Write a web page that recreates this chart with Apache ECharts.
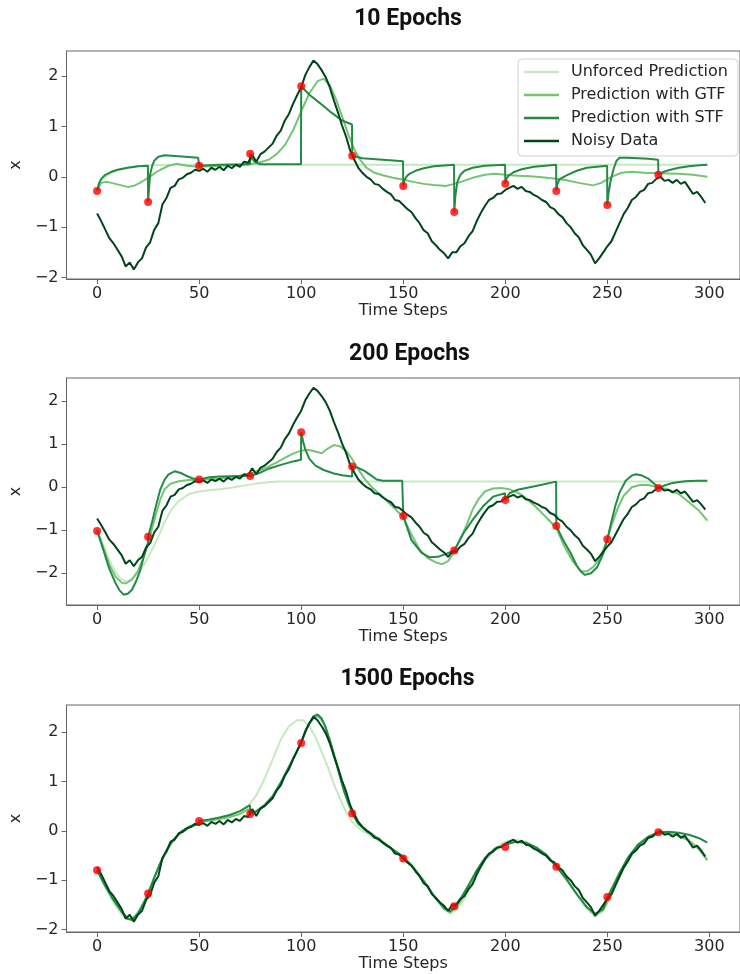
<!DOCTYPE html>
<html>
<head>
<meta charset="utf-8">
<script src="https://cdn.jsdelivr.net/npm/echarts@6/dist/echarts.min.js"></script>
<style>
  html, body { margin: 0; padding: 0; background: #ffffff; }
  #chart { width: 740px; height: 974px; }
</style>
</head>
<body>
<div id="chart"></div>
<script>
// ---- data ---------------------------------------------------------------
const panelTitles = ['10 Epochs', '200 Epochs', '1500 Epochs'];
const seriesNames = ['Unforced Prediction', 'Prediction with GTF', 'Prediction with STF', 'Noisy Data'];
const xTicks = [0, 50, 100, 150, 200, 250, 300];
const yTicks = [-2, -1, 0, 1, 2];

// observed trajectory, one value every 2 time steps (t = 0, 2, 4, ...)
const noisyStep = 2;
const noisyData = [
  -0.73, -0.88, -1.05, -1.22, -1.32, -1.45, -1.58, -1.78, -1.70, -1.84,
  -1.70, -1.62, -1.40, -1.30, -1.05, -0.92, -0.55, -0.42, -0.22, -0.18,
  -0.05, -0.02, 0.05, 0.08, 0.14, 0.12, 0.16, 0.10, 0.18, 0.14,
  0.20, 0.13, 0.22, 0.17, 0.24, 0.20, 0.30, 0.28, 0.44, 0.30,
  0.45, 0.50, 0.58, 0.66, 0.82, 0.92, 1.12, 1.25, 1.45, 1.62,
  1.78, 2.02, 2.18, 2.31, 2.24, 2.12, 1.98, 1.78, 1.52, 1.28,
  1.02, 0.80, 0.52, 0.34, 0.18, 0.08, 0.00, -0.05, -0.14, -0.16,
  -0.24, -0.30, -0.35, -0.46, -0.48, -0.56, -0.64, -0.70, -0.82, -0.92,
  -1.06, -1.12, -1.28, -1.36, -1.45, -1.52, -1.62, -1.50, -1.50, -1.38,
  -1.32, -1.18, -1.08, -0.88, -0.72, -0.58, -0.46, -0.42, -0.34, -0.33,
  -0.26, -0.22, -0.18, -0.24, -0.20, -0.28, -0.30, -0.36, -0.40, -0.46,
  -0.50, -0.60, -0.64, -0.74, -0.80, -0.92, -1.00, -1.12, -1.20, -1.36,
  -1.45, -1.55, -1.72, -1.62, -1.50, -1.38, -1.28, -1.10, -0.92, -0.74,
  -0.62, -0.46, -0.40, -0.30, -0.26, -0.14, -0.12, -0.04, 0.00, -0.08,
  -0.06, -0.12, -0.06, -0.14, -0.10, -0.22, -0.34, -0.30, -0.40, -0.52
];

// forcing points, one every 25 steps
const forcingSteps = [0, 25, 50, 75, 100, 125, 150, 175, 200, 225, 250, 275];
const forcing10 = [-0.28, -0.50, 0.22, 0.46, 1.80, 0.42, -0.18, -0.70, -0.14, -0.28, -0.56, 0.04];
const forcing200 = [-1.02, -1.15, 0.18, 0.26, 1.28, 0.48, -0.67, -1.47, -0.30, -0.90, -1.21, -0.02];
const forcing1500 = [-0.80, -1.27, 0.20, 0.34, 1.78, 0.35, -0.56, -1.53, -0.33, -0.73, -1.34, -0.03];

// ---- 10 epochs: [time step, x] ----
const unforced10 = [[0,-0.28],[2,-0.08],[4,0.0],[7,0.08],[10,0.13],[15,0.18],[20,0.21],[25,0.23],[40,0.24],[299,0.24]];
const gtf10 = [[0,-0.28],[2,-0.12],[5,-0.1],[10,-0.15],[15,-0.2],[18,-0.18],[21,-0.12],[25,-0.02],[30,0.12],[35,0.22],[39,0.26],[44,0.22],[50,0.2],[60,0.22],[70,0.24],[76,0.26],[80,0.29],[84,0.34],[88,0.45],[92,0.63],[96,0.92],[100,1.3],[104,1.66],[108,1.9],[111,1.95],[114,1.82],[117,1.55],[120,1.2],[123,0.85],[126,0.55],[129,0.33],[132,0.18],[136,0.08],[140,0.03],[145,-0.02],[150,-0.06],[155,-0.1],[160,-0.14],[165,-0.16],[171,-0.18],[175,-0.14],[179,-0.09],[184,-0.02],[190,0.04],[195,0.06],[200,0.04],[206,0.02],[212,0.01],[218,-0.01],[225,-0.04],[230,-0.07],[236,-0.12],[243,-0.17],[247,-0.12],[252,0.0],[257,0.08],[262,0.1],[268,0.08],[275,0.07],[285,0.06],[292,0.04],[299,0.0]];
const stf10 = [[0,-0.28],[1,-0.12],[2,-0.04],[4,0.04],[7,0.1],[10,0.14],[15,0.18],[20,0.21],[24.9,0.22],[25,-0.5],[25.5,-0.2],[26,0.05],[27,0.22],[28,0.32],[30,0.4],[33,0.43],[40,0.41],[49.5,0.38],[50,0.22],[55,0.23],[60,0.24],[74.9,0.25],[75,0.46],[76,0.35],[78,0.28],[80,0.25],[99.9,0.25],[100,1.8],[104,1.63],[109,1.47],[115,1.27],[120,1.12],[124.9,1.04],[125,0.42],[130,0.37],[140,0.34],[149.9,0.31],[150,-0.18],[150.5,-0.08],[151.5,0.0],[153,0.06],[156,0.12],[160,0.17],[165,0.21],[174.9,0.24],[175,-0.7],[175.5,-0.4],[176.5,-0.1],[178,0.04],[180,0.12],[184,0.18],[190,0.22],[199.9,0.24],[200,-0.14],[200.5,-0.05],[201.5,0.02],[204,0.09],[208,0.15],[214,0.2],[224.9,0.24],[225,-0.28],[225.5,-0.15],[226.5,-0.05],[230,0.03],[235,0.12],[240,0.18],[249.9,0.22],[250,-0.56],[250.5,-0.35],[251.5,-0.1],[253,0.15],[254.5,0.32],[256,0.38],[260,0.38],[270,0.36],[274.9,0.34],[275,0.04],[277,0.09],[280,0.13],[285,0.18],[290,0.21],[295,0.23],[299,0.24]];

// ---- 200 epochs ----
const unforced200 = [[0,-1.0],[3,-1.35],[6,-1.7],[9,-1.98],[12,-2.15],[15,-2.2],[18,-2.1],[21,-1.95],[24,-1.72],[27,-1.45],[30,-1.15],[33,-0.82],[36,-0.55],[40,-0.32],[45,-0.16],[50,-0.1],[55,-0.07],[60,-0.05],[65,-0.02],[70,0.02],[75,0.06],[80,0.1],[85,0.12],[90,0.13],[299,0.13]];
const gtf200 = [[0,-1.0],[3,-1.4],[6,-1.8],[9,-2.08],[12,-2.22],[14,-2.24],[17,-2.15],[20,-1.95],[23,-1.6],[25,-1.3],[27,-0.95],[29,-0.6],[31,-0.28],[33,-0.05],[36,0.08],[40,0.14],[45,0.17],[50,0.17],[60,0.2],[68,0.25],[75,0.32],[80,0.4],[84,0.48],[88,0.58],[92,0.68],[96,0.78],[100,0.85],[103,0.87],[106,0.84],[110,0.79],[113,0.9],[116,0.98],[119,0.95],[122,0.85],[125,0.65],[128,0.42],[131,0.2],[135,-0.02],[140,-0.22],[143,-0.37],[146,-0.5],[150,-0.7],[154,-1.1],[158,-1.45],[162,-1.65],[166,-1.75],[169,-1.79],[172,-1.72],[175,-1.5],[178,-1.2],[181,-0.88],[184,-0.52],[187,-0.27],[190,-0.1],[194,-0.03],[198,-0.02],[202,-0.05],[206,-0.12],[210,-0.25],[215,-0.46],[220,-0.7],[225,-0.95],[229,-1.38],[233,-1.72],[237,-1.95],[240,-1.96],[243,-1.86],[246,-1.68],[249,-1.35],[252,-0.9],[255,-0.5],[258,-0.2],[262,0.0],[266,0.05],[270,0.05],[275,0.0],[280,-0.06],[285,-0.16],[290,-0.35],[295,-0.55],[299,-0.78]];
const stf200 = [[0,-1.0],[2,-1.3],[4,-1.6],[6,-1.9],[9,-2.23],[11,-2.4],[13,-2.5],[15,-2.48],[17,-2.39],[19,-2.2],[21,-1.95],[23,-1.6],[24.9,-1.3],[25,-1.15],[27,-0.8],[29,-0.4],[31,-0.05],[33,0.17],[35,0.3],[38,0.37],[41,0.33],[44,0.26],[47,0.2],[50,0.18],[55,0.23],[60,0.25],[70,0.26],[75,0.26],[80,0.34],[84,0.43],[90,0.52],[96,0.6],[99.9,0.64],[100,1.28],[101,1.05],[102,0.88],[104,0.66],[107,0.5],[111,0.4],[116,0.32],[120,0.28],[124.9,0.25],[125,0.48],[128,0.45],[131,0.38],[134,0.28],[137,0.18],[140,0.15],[149.5,0.15],[150,-0.67],[154,-1.23],[159,-1.53],[163,-1.63],[167,-1.62],[171,-1.55],[175,-1.47],[179.5,-1.07],[184,-0.76],[189,-0.45],[194,-0.22],[199.9,-0.14],[200,-0.3],[202,-0.14],[206,-0.06],[215,0.03],[224.9,0.13],[225,-0.9],[228,-1.2],[232,-1.53],[235,-1.82],[237,-1.96],[239,-2.04],[242,-2.0],[245,-1.86],[248,-1.55],[250,-1.21],[252,-0.8],[254,-0.42],[256,-0.12],[259,0.15],[262,0.27],[264,0.3],[267,0.27],[270,0.2],[273,0.08],[275,-0.02],[278,0.04],[282,0.1],[288,0.14],[294,0.15],[299,0.15]];

// ---- 1500 epochs ----
const unforced1500 = [[0,-0.8],[4,-1.15],[8,-1.45],[12,-1.7],[15,-1.8],[18,-1.75],[21,-1.58],[24,-1.35],[27,-1.05],[30,-0.75],[33,-0.5],[36,-0.28],[40,-0.08],[45,0.05],[50,0.15],[55,0.22],[60,0.27],[65,0.32],[70,0.4],[74,0.5],[78,0.72],[82,1.05],[86,1.45],[90,1.85],[94,2.12],[98,2.24],[101,2.24],[104,2.12],[107,1.9],[110,1.6],[113,1.3],[116,0.95],[119,0.65],[122,0.38],[125,0.18],[128,0.06],[132,-0.05],[136,-0.15],[140,-0.25],[145,-0.38],[150,-0.52],[155,-0.72],[160,-1.0],[165,-1.3],[170,-1.58],[173,-1.68],[176,-1.6],[180,-1.38],[185,-0.98],[190,-0.6],[195,-0.35],[200,-0.22],[205,-0.18],[210,-0.22],[215,-0.35],[220,-0.5],[225,-0.72],[230,-1.0],[235,-1.3],[240,-1.58],[244,-1.74],[248,-1.62],[252,-1.3],[256,-0.92],[260,-0.6],[265,-0.32],[270,-0.15],[275,-0.06],[280,-0.04],[285,-0.08],[290,-0.18],[295,-0.35],[299,-0.58]];
const gtf1500 = [[0,-0.8],[4,-1.1],[8,-1.38],[12,-1.62],[15,-1.78],[17,-1.8],[20,-1.68],[23,-1.45],[26,-1.15],[29,-0.85],[32,-0.55],[35,-0.32],[38,-0.15],[42,0.0],[46,0.1],[50,0.18],[55,0.21],[60,0.24],[65,0.28],[70,0.34],[74,0.44],[75,0.33],[78,0.38],[82,0.5],[86,0.68],[90,0.95],[94,1.28],[98,1.62],[101,1.9],[104,2.18],[107,2.32],[109,2.3],[111,2.18],[114,1.85],[117,1.42],[120,0.95],[123,0.55],[125,0.36],[128,0.15],[132,0.02],[136,-0.1],[140,-0.22],[145,-0.38],[150,-0.55],[155,-0.75],[160,-1.02],[165,-1.32],[170,-1.58],[173,-1.65],[176,-1.55],[180,-1.3],[185,-0.92],[190,-0.58],[195,-0.38],[200,-0.28],[205,-0.22],[210,-0.24],[215,-0.35],[220,-0.5],[225,-0.72],[230,-0.98],[235,-1.28],[240,-1.55],[244,-1.7],[248,-1.6],[252,-1.28],[256,-0.92],[260,-0.6],[265,-0.32],[270,-0.15],[275,-0.05],[280,-0.05],[285,-0.1],[290,-0.2],[295,-0.38],[299,-0.6]];
const stf1500 = [[0,-0.8],[4,-1.12],[8,-1.4],[12,-1.64],[15,-1.78],[17,-1.8],[20,-1.68],[23,-1.45],[24.9,-1.3],[25,-1.27],[28,-0.95],[31,-0.65],[34,-0.4],[37,-0.2],[41,-0.02],[45,0.08],[49.9,0.15],[50,0.2],[55,0.23],[60,0.27],[65,0.32],[70,0.4],[74.9,0.52],[75,0.35],[78,0.4],[82,0.52],[86,0.7],[90,0.98],[94,1.3],[98,1.62],[100,1.8],[103,2.1],[106,2.32],[108,2.36],[110,2.28],[112,2.1],[115,1.7],[118,1.25],[121,0.8],[124.9,0.4],[125,0.35],[128,0.14],[132,0.0],[136,-0.12],[140,-0.24],[145,-0.38],[149.9,-0.52],[150,-0.56],[155,-0.75],[160,-1.02],[165,-1.32],[170,-1.56],[173,-1.63],[175,-1.55],[178,-1.38],[182,-1.1],[186,-0.8],[190,-0.55],[195,-0.36],[200,-0.28],[205,-0.22],[210,-0.24],[215,-0.33],[220,-0.48],[225,-0.72],[230,-0.98],[235,-1.28],[240,-1.55],[244,-1.68],[248,-1.58],[250,-1.35],[253,-1.1],[256,-0.85],[260,-0.55],[265,-0.28],[270,-0.12],[275,-0.03],[280,-0.02],[285,-0.04],[290,-0.08],[295,-0.15],[299,-0.24]];

// ---- layout & style ---------------------------------------------------------
const colors = ['#c7e9c0', '#74c476', '#238b45', '#00441b'];
const panels = [
  { title: panelTitles[0], lines: [unforced10, gtf10, stf10], forcing: forcing10,
    grid: { left: 58, top: 51, width: 690, height: 228 }, yMin: -2.03, yMax: 2.5, titleTop: 3 },
  { title: panelTitles[1], lines: [unforced200, gtf200, stf200], forcing: forcing200,
    grid: { left: 59.5, top: 378, width: 690, height: 227 }, yMin: -2.74, yMax: 2.54, titleTop: 338 },
  { title: panelTitles[2], lines: [unforced1500, gtf1500, stf1500], forcing: forcing1500,
    grid: { left: 58, top: 705, width: 689, height: 227 }, yMin: -2.05, yMax: 2.55, titleTop: 663 }
];

const axisColor = '#666666';
const textColor = '#262626';
const tickFont = 'DejaVu Sans';
const minus = v => String(v).replace('-', '\u2212');

const noisyPairs = noisyData.map((v, i) => [i * noisyStep, v]);

const grids = [], xAxes = [], yAxes = [], titles = [], series = [];
panels.forEach((p, i) => {
  grids.push(Object.assign({ show: true, borderColor: axisColor, borderWidth: 1, containLabel: false }, p.grid));
  titles.push({
    text: p.title, left: p.grid.left + p.grid.width / 2, top: p.titleTop, textAlign: 'center',
    textStyle: { fontFamily: 'Roboto', fontWeight: 'bold', fontSize: 23, color: '#111111' }
  });
  xAxes.push({
    type: 'value', gridIndex: i, min: -15, max: 315,
    axisLine: { show: true, onZero: false, lineStyle: { color: axisColor } },
    axisTick: { show: true, customValues: xTicks, length: 5, lineStyle: { color: axisColor } },
    axisLabel: { customValues: xTicks, fontSize: 16, fontFamily: tickFont, color: textColor, margin: 7 },
    splitLine: { show: false },
    name: 'Time Steps', nameLocation: 'middle', nameGap: 24,
    nameTextStyle: { fontSize: 16, fontFamily: tickFont, color: textColor }
  });
  yAxes.push({
    type: 'value', gridIndex: i, min: p.yMin, max: p.yMax,
    axisLine: { show: true, onZero: false, lineStyle: { color: axisColor } },
    axisTick: { show: true, customValues: yTicks, length: 5, lineStyle: { color: axisColor } },
    axisLabel: { customValues: yTicks, fontSize: 16, fontFamily: tickFont, color: textColor, margin: 8, formatter: minus },
    splitLine: { show: false },
    name: 'x', nameLocation: 'middle', nameGap: 36, nameRotate: 90,
    nameTextStyle: { fontSize: 16, fontFamily: tickFont, color: textColor }
  });
  const lineSets = [p.lines[0], p.lines[1], p.lines[2], noisyPairs];
  lineSets.forEach((d, k) => {
    series.push({
      name: seriesNames[k], type: 'line', xAxisIndex: i, yAxisIndex: i, data: d,
      showSymbol: false, symbol: 'none', color: colors[k],
      lineStyle: { width: 2, color: colors[k] }, z: 2 + k, animation: false
    });
  });
  series.push({
    type: 'scatter', xAxisIndex: i, yAxisIndex: i,
    data: forcingSteps.map((t, j) => [t, p.forcing[j]]),
    symbolSize: 8, itemStyle: { color: '#ff0000' }, z: 10, animation: false
  });
});

const chart = echarts.init(document.getElementById('chart'), null, { renderer: 'canvas' });
chart.setOption({
  backgroundColor: '#ffffff',
  animation: false,
  title: titles,
  grid: grids,
  xAxis: xAxes,
  yAxis: yAxes,
  legend: {
    data: seriesNames, orient: 'vertical', left: 518, top: 59,
    icon: 'rect', itemWidth: 35, itemHeight: 2.5, itemGap: 7,
    padding: [5, 10, 7, 6],
    backgroundColor: 'rgba(255,255,255,0.85)', borderColor: '#d0d0d0', borderWidth: 1, borderRadius: 4,
    textStyle: { fontSize: 16, fontFamily: tickFont, color: textColor, padding: [0, 0, 0, 7] }
  },
  series: series
});
</script>
</body>
</html>
